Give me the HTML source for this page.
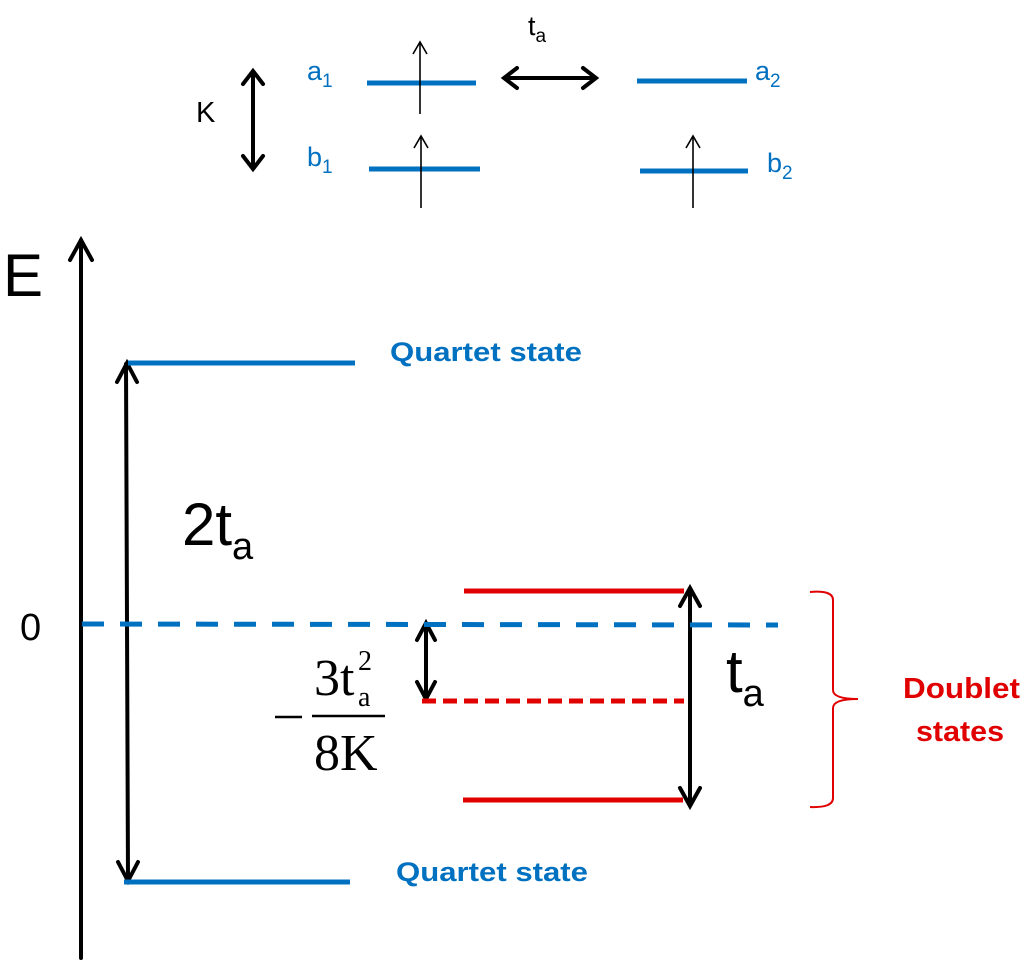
<!DOCTYPE html>
<html><head><style>html,body{margin:0;padding:0;background:#fff}svg{display:block}</style></head>
<body>
<svg width="1024" height="970" viewBox="0 0 1024 970" xmlns="http://www.w3.org/2000/svg" font-family="Liberation Sans, sans-serif">
<!-- top section -->
<text x="196" y="122" font-size="29" fill="#000">K</text>
<g stroke="#000" stroke-width="4" fill="none" stroke-linecap="round">
<line x1="253" y1="72" x2="253" y2="168"/>
<polyline points="243,84 253,71 263,84"/>
<polyline points="243,156 253,169 263,156"/>
<line x1="505" y1="78" x2="595" y2="78"/>
<polyline points="517,68 504,78 517,88"/>
<polyline points="583,68 596,78 583,88"/>
</g>
<text x="528" y="35" font-size="27">t<tspan font-size="19" dy="7">a</tspan></text>
<g fill="#0070C0" font-size="27">
<text x="307" y="80">a<tspan font-size="19" dy="7">1</tspan></text>
<text x="307" y="166">b<tspan font-size="19" dy="7">1</tspan></text>
<text x="755" y="80">a<tspan font-size="19" dy="7">2</tspan></text>
<text x="767" y="172">b<tspan font-size="19" dy="7">2</tspan></text>
</g>
<g stroke="#0070C0" stroke-width="5">
<line x1="367" y1="83" x2="476" y2="83"/>
<line x1="369" y1="169" x2="480" y2="169"/>
<line x1="637" y1="81" x2="747" y2="81"/>
<line x1="640" y1="171" x2="748" y2="171"/>
</g>
<g stroke="#000" stroke-width="1.6" fill="none">
<line x1="420" y1="114" x2="420" y2="42"/><polyline points="413,54 420,42 427,54"/>
<line x1="421" y1="208" x2="421" y2="136"/><polyline points="414,148 421,136 428,148"/>
<line x1="693" y1="208" x2="693" y2="136"/><polyline points="686,148 693,136 700,148"/>
</g>
<!-- E axis -->
<text x="3" y="296" font-size="60">E</text>
<g stroke="#000" stroke-width="4" fill="none" stroke-linecap="round">
<line x1="81" y1="958" x2="81" y2="240"/>
<polyline points="70,260 81,240 92,260"/>
<line x1="126" y1="364" x2="128" y2="880"/>
<polyline points="117,382 127,363 137,382"/>
<polyline points="118,862 128,881 138,862"/>
<line x1="426" y1="624" x2="426" y2="698"/>
<polyline points="417,640 426,623 435,640"/>
<polyline points="417,682 426,699 435,682"/>
<line x1="690" y1="590" x2="690" y2="804"/>
<polyline points="680,606 690,588 700,606"/>
<polyline points="680,788 690,806 700,788"/>
</g>
<g stroke="#0070C0" stroke-width="5">
<line x1="128" y1="363" x2="355" y2="363"/>
<line x1="124" y1="882" x2="350" y2="882"/>
<line x1="82" y1="624" x2="778" y2="625" stroke-dasharray="22,16"/>
</g>
<g fill="#0070C0" font-size="27" font-weight="bold">
<text x="390" y="361" textLength="192" lengthAdjust="spacingAndGlyphs">Quartet state</text>
<text x="396" y="881" textLength="192" lengthAdjust="spacingAndGlyphs">Quartet state</text>
</g>
<text x="182" y="545" font-size="60">2t<tspan font-size="38" dy="14">a</tspan></text>
<text x="20" y="640" font-size="38">0</text>
<text x="726" y="692" font-size="60">t<tspan font-size="38" dy="14">a</tspan></text>
<g stroke="#E00000" stroke-width="5">
<line x1="464" y1="591" x2="684" y2="591"/>
<line x1="463" y1="800" x2="683" y2="800"/>
<line x1="422" y1="701" x2="684" y2="701" stroke-dasharray="14,7"/>
</g>
<!-- fraction -->
<g font-family="Liberation Serif, serif" fill="#000">
<line x1="275" y1="717" x2="302" y2="717" stroke="#000" stroke-width="2.5"/>
<text x="314" y="695" font-size="52">3t</text>
<text x="358" y="670" font-size="28">2</text>
<text x="358" y="706" font-size="28">a</text>
<line x1="312" y1="716" x2="385" y2="716" stroke="#000" stroke-width="2.5"/>
<text x="314" y="770" font-size="52">8K</text>
</g>
<!-- brace -->
<path d="M810,592 Q833,590 833,600 L833,690 Q833,699 858,699 Q833,699 833,708 L833,798 Q833,808 810,807" stroke="#E00000" stroke-width="2" fill="none"/>
<g fill="#E00000" font-size="29" font-weight="bold">
<text x="903" y="698" textLength="117" lengthAdjust="spacingAndGlyphs">Doublet</text>
<text x="916" y="741" textLength="88" lengthAdjust="spacingAndGlyphs">states</text>
</g>
</svg>
</body></html>
